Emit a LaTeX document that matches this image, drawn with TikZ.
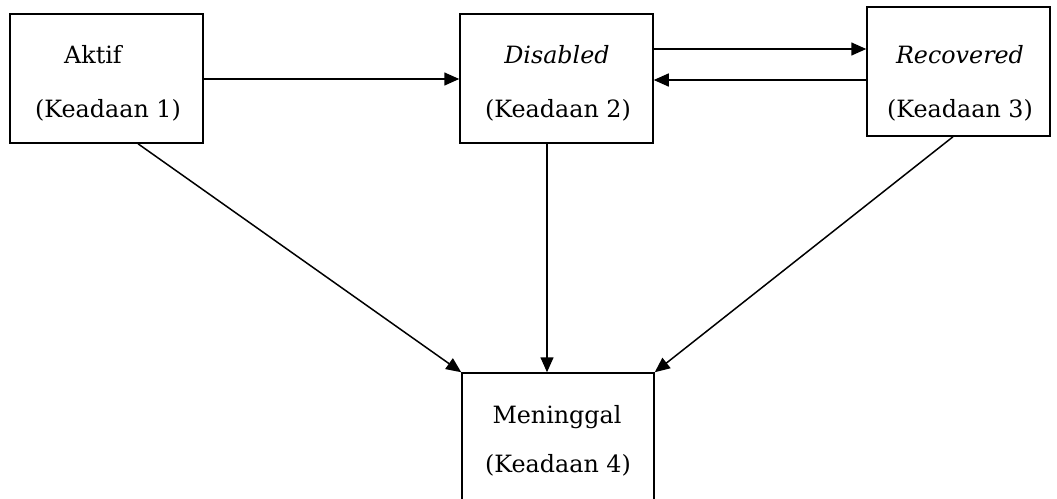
\documentclass[tikz,border=0pt]{standalone}
\usepackage{fontspec}
\setmainfont{DejaVu Serif}
\usetikzlibrary{arrows.meta,calc}
\begin{document}
\begin{tikzpicture}[x=1pt,y=-1pt,
  box/.style={draw,line width=1.5pt,minimum width=#1,minimum height=129pt,inner sep=0pt},
  lbl/.style={anchor=base,inner sep=0pt,font=\fontsize{23.8pt}{28pt}\selectfont},
  arr/.style={line width=1.5pt,-{Triangle[length=15pt,width=13pt]}}]
\useasboundingbox (0,0) rectangle (1057,498);
\clip (0,0) rectangle (1057,498);
\fill[white] (0,0) rectangle (1057,498);
% boxes
\node[box=193pt] (b1) at (106.5,78.5) {};
\node[box=193pt] (b2) at (556.5,78.5) {};
\node[box=183pt] (b3) at (958.5,71.5) {};
\node[box=192pt,minimum height=150pt] (b4) at (558,448) {};
% labels
\node[lbl] (t1a) at (93,63) {Aktif};
\node[lbl] (t1b) at (108,117) {(Keadaan 1)};
\node[lbl] (t2a) at (557,63) {\itshape Disabled};
\node[lbl] (t2b) at (558,117) {(Keadaan 2)};
\node[lbl] (t3a) at (960,63) {\itshape Recovered};
\node[lbl] (t3b) at (960,117) {(Keadaan 3)};
\node[lbl] (t4a) at (557,423) {Meninggal};
\node[lbl] (t4b) at (558,472) {(Keadaan 4)};
% connectors
\draw[arr] ([yshift=-0.5pt]b1.east) -- ([yshift=-0.5pt]b2.west);
\draw[arr] ([yshift=29.5pt]b2.east) -- ([yshift=22.5pt]b3.west);
\draw[arr] ([yshift=-8.5pt]b3.west) -- ([yshift=-1.5pt]b2.east);
\draw[arr] ([xshift=31.5pt]b1.south) -- (b4.north west);
\draw[arr] ([xshift=-9.5pt]b2.south) -- ([xshift=-11pt]b4.north);
\draw[arr] ([xshift=-5.5pt]b3.south) -- (b4.north east);
\end{tikzpicture}
\end{document}
